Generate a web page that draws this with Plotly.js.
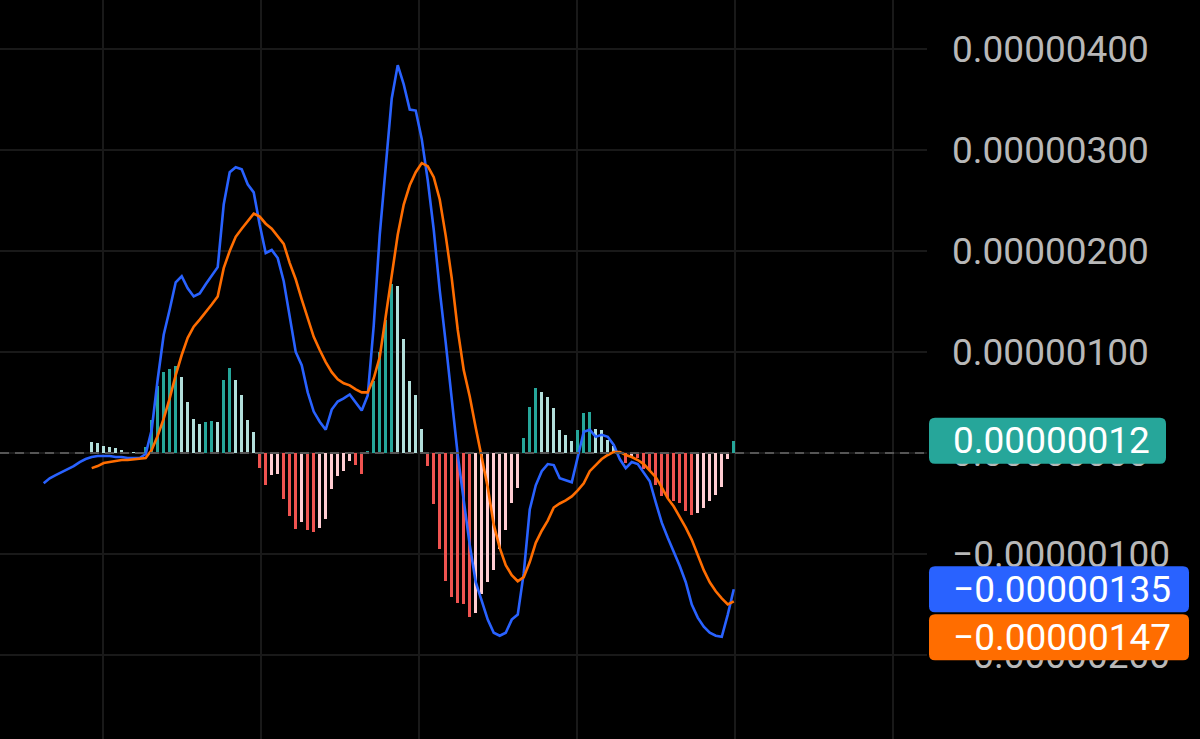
<!DOCTYPE html>
<html>
<head>
<meta charset="utf-8">
<script src="https://cdn.plot.ly/plotly-3.0.1.min.js"></script>
<style>
  html, body { margin: 0; padding: 0; background: #000; }
  #chart { width: 1200px; height: 739px; }
</style>
</head>
<body>
<div id="chart"></div>
<script>
// Values in units of 1e-6
// MACD line starts 8 bars before the histogram / signal line
const macdStart = -8;
const macd = [
  -0.30, -0.25, -0.22, -0.19, -0.16, -0.13, -0.09, -0.06,
  -0.04, -0.03, -0.03, -0.03, -0.04, -0.04, -0.05, -0.05, -0.05, -0.01,
  0.23, 0.73, 1.17, 1.42, 1.69, 1.75, 1.63, 1.55, 1.58, 1.67,
  1.76, 1.84, 2.46, 2.78, 2.83, 2.81, 2.66, 2.58, 2.26, 1.98,
  2.01, 1.93, 1.70, 1.37, 1.00, 0.87, 0.60, 0.41, 0.31, 0.23,
  0.43, 0.51, 0.54, 0.58, 0.50, 0.42, 0.57, 1.26, 2.16, 2.82,
  3.51, 3.84, 3.65, 3.40, 3.39, 3.11, 2.70, 2.21, 1.61, 1.09,
  0.54, -0.02, -0.47, -0.91, -1.28, -1.46, -1.65, -1.78, -1.81, -1.78,
  -1.65, -1.60, -1.19, -0.56, -0.32, -0.18, -0.11, -0.12, -0.25, -0.27,
  -0.29, -0.04, 0.21, 0.23, 0.16, 0.18, 0.16, 0.08, -0.06, -0.15,
  -0.09, -0.11, -0.19, -0.28, -0.49, -0.69, -0.84, -0.98, -1.12, -1.28,
  -1.50, -1.63, -1.72, -1.78, -1.81, -1.82, -1.60, -1.35
];
const signal = [
  -0.15, -0.13, -0.10, -0.09, -0.08, -0.07, -0.07, -0.065, -0.06, -0.05,
  0.03, 0.17, 0.34, 0.54, 0.77, 0.97, 1.14, 1.25, 1.32, 1.39,
  1.47, 1.55, 1.83, 2.00, 2.14, 2.22, 2.30, 2.37, 2.34, 2.27,
  2.22, 2.15, 2.07, 1.88, 1.72, 1.52, 1.34, 1.15, 1.02, 0.90,
  0.80, 0.73, 0.69, 0.67, 0.63, 0.60, 0.60, 0.74, 0.95, 1.34,
  1.75, 2.16, 2.46, 2.65, 2.78, 2.87, 2.84, 2.73, 2.51, 2.15,
  1.73, 1.22, 0.82, 0.56, 0.25, -0.04, -0.34, -0.71, -0.94, -1.11,
  -1.21, -1.27, -1.23, -1.08, -0.89, -0.77, -0.67, -0.54, -0.50, -0.47,
  -0.43, -0.37, -0.30, -0.18, -0.12, -0.06, -0.02, 0.01, 0.01, -0.02,
  -0.04, -0.07, -0.11, -0.17, -0.24, -0.34, -0.45, -0.53, -0.63, -0.74,
  -0.86, -1.01, -1.16, -1.28, -1.37, -1.44, -1.50, -1.47
];
const histogram = [
  0.11, 0.096, 0.073, 0.063, 0.046, 0.03, 0.012, 0.01, 0.012, 0.06,
  0.33, 0.66, 0.80, 0.83, 0.86, 0.75, 0.50, 0.34, 0.29, 0.31,
  0.32, 0.31, 0.72, 0.84, 0.72, 0.57, 0.33, 0.21, -0.145, -0.32,
  -0.22, -0.21, -0.46, -0.62, -0.75, -0.68, -0.76, -0.78, -0.74, -0.65,
  -0.36, -0.23, -0.175, -0.08, -0.12, -0.21, 0.02, 0.71, 1.00, 1.32,
  1.67, 1.65, 1.13, 0.71, 0.57, 0.24, -0.13, -0.505, -0.95, -1.27,
  -1.43, -1.49, -1.50, -1.62, -1.58, -1.40, -1.28, -1.16, -0.95, -0.76,
  -0.50, -0.35, 0.145, 0.46, 0.64, 0.60, 0.55, 0.45, 0.23, 0.18,
  0.12, 0.23, 0.40, 0.41, 0.235, 0.225, 0.13, 0.07, 0.02, -0.10,
  -0.04, -0.05, -0.16, -0.17, -0.32, -0.43, -0.45, -0.48, -0.50, -0.57,
  -0.61, -0.59, -0.54, -0.48, -0.42, -0.34, -0.06, 0.12
];
const tickVals = [-2, -1, 0, 1, 2, 3, 4];
const tickText = ['\u22120.00000200', '\u22120.00000100', '0.00000000', '0.00000100', '0.00000200', '0.00000300', '0.00000400'];
const lastLabels = { hist: '0.00000012', macd: '\u22120.00000135', signal: '\u22120.00000147' };

const COL = {
  upStrong: '#26a69a', upWeak: '#b2dfdb', downStrong: '#ef5350', downWeak: '#ffcdd2',
  macd: '#2962ff', signal: '#ff6d00'
};
const FONT = 'Roboto, sans-serif';
const FSIZE = 37;

const histX = histogram.map((_, i) => i);
const macdX = macd.map((_, i) => i + macdStart);
const sigX = signal.map((_, i) => i);
const histColors = histogram.map((h, i) => {
  const prev = i > 0 ? histogram[i - 1] : h;
  if (h >= 0) return h > prev ? COL.upStrong : COL.upWeak;
  return h < prev ? COL.downStrong : COL.downWeak;
});

function roundBox(x0, x1, y0, y1, r) {
  return `M ${x0 + r},${y1} L ${x1 - r},${y1} Q ${x1},${y1} ${x1},${y1 - r} L ${x1},${y0 + r} Q ${x1},${y0} ${x1 - r},${y0} L ${x0 + r},${y0} Q ${x0},${y0} ${x0},${y0 + r} L ${x0},${y1 - r} Q ${x0},${y1} ${x0 + r},${y1} Z`;
}
const lastHist = histogram[histogram.length - 1];
const lastMacd = macd[macd.length - 1];
const lastSig = signal[signal.length - 1];

const traces = [
  { type: 'bar', x: histX, y: histogram, width: 0.5, marker: { color: histColors, line: { width: 0 } }, hoverinfo: 'skip' },
  { type: 'scatter', mode: 'lines', x: macdX, y: macd, line: { color: COL.macd, width: 2.6 }, hoverinfo: 'skip' },
  { type: 'scatter', mode: 'lines', x: sigX, y: signal, line: { color: COL.signal, width: 2.6 }, hoverinfo: 'skip' }
];

const boxShape = (yv, fill, x1, yOff) => ({
  type: 'path', xref: 'paper', yref: 'y', xsizemode: 'pixel', ysizemode: 'pixel',
  xanchor: 1, yanchor: yv, path: roundBox(2, x1, -23 + yOff, 23 + yOff, 6),
  fillcolor: fill, line: { width: 0 }, layer: 'above'
});

const layout = {
  width: 1200, height: 739,
  margin: { l: 0, r: 273, t: 0, b: 0 },
  paper_bgcolor: '#000000', plot_bgcolor: '#000000',
  showlegend: false, bargap: 0,
  xaxis: {
    range: [-15.28, 139.2], showticklabels: false, showgrid: true, gridcolor: '#191919', gridwidth: 2,
    tick0: 1.88, dtick: 26.33, zeroline: false, showline: false, ticks: '', fixedrange: true
  },
  yaxis: {
    side: 'right', range: [-2.832, 4.485], tickvals: tickVals, ticktext: tickText,
    showgrid: true, gridcolor: '#191919', gridwidth: 2, zeroline: false, showline: false, ticks: '',
    ticklabelstandoff: 24,
    tickfont: { family: FONT, size: FSIZE, color: '#b8b8b8' }, fixedrange: true
  },
  shapes: [
    { type: 'line', xref: 'paper', x0: 0, x1: 1, yref: 'y', y0: 0, y1: 0,
      line: { color: '#555555', width: 2, dash: '9px,6px' }, layer: 'above' },
    boxShape(lastHist, COL.upStrong, 239, 0),
    boxShape(lastMacd, COL.macd, 262, 0),
    boxShape(lastMacd, COL.signal, 262, -48)
  ],
  annotations: [
    { xref: 'paper', x: 1, xanchor: 'left', xshift: 24, yref: 'y', y: lastHist, yanchor: 'middle',
      text: lastLabels.hist, showarrow: false, font: { family: FONT, size: FSIZE, color: '#ffffff' } },
    { xref: 'paper', x: 1, xanchor: 'left', xshift: 24, yref: 'y', y: lastMacd, yanchor: 'middle',
      text: lastLabels.macd, showarrow: false, font: { family: FONT, size: FSIZE, color: '#ffffff' } },
    { xref: 'paper', x: 1, xanchor: 'left', xshift: 24, yref: 'y', y: lastMacd, yanchor: 'middle', yshift: -48,
      text: lastLabels.signal, showarrow: false, font: { family: FONT, size: FSIZE, color: '#ffffff' } }
  ]
};

Plotly.newPlot('chart', traces, layout, { staticPlot: true, displayModeBar: false });
</script>
</body>
</html>
